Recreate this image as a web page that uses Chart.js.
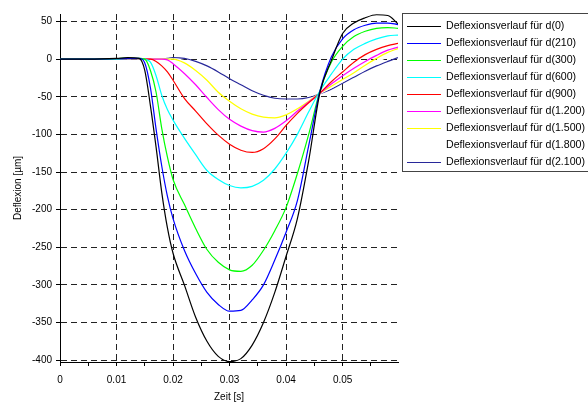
<!DOCTYPE html>
<html>
<head>
<meta charset="utf-8">
<script src="https://cdn.jsdelivr.net/npm/chart.js@4.4.0/dist/chart.umd.min.js"></script>
<style>
  html, body { margin: 0; padding: 0; background: #fff; }
  #wrap { width: 588px; height: 403px; position: relative; overflow: hidden; }
</style>
</head>
<body>
<div id="wrap"><canvas id="chart"></canvas></div>
<script>
// Zeit [s]
const zeit = [0, 0.005, 0.010, 0.012, 0.014, 0.015, 0.016, 0.017, 0.018, 0.019, 0.020,
  0.022, 0.024, 0.026, 0.028, 0.030, 0.032, 0.034, 0.036, 0.038, 0.040,
  0.042, 0.044, 0.046, 0.048, 0.050, 0.052, 0.054, 0.056, 0.058, 0.0598];

// Deflexion [µm] per sensor distance
const d0    = [0, 0, 1, 2, 1, -15, -62, -117, -177, -224, -258, -300, -343, -375, -395, -402, -398, -380, -350, -310, -262, -212, -135, -44, -2, 34, 48, 55, 59, 58, 47];
const d210  = [0, 0, 0.5, 1, 1, -5, -38, -93, -142, -182, -212, -254, -285, -310, -326, -335, -334, -320, -300, -267, -230, -188, -115, -42, 3, 27, 39, 45, 48, 48, 46];
const d300  = [0, 0, 0.5, 1.5, 1, 0, -15, -44, -92, -130, -160, -193, -225, -253, -270, -280, -282, -274, -254, -228, -197, -152, -100, -42, -4, 17, 30, 37, 41, 42, 41];
const d600  = [0, 0, 0, 0.5, 0.5, 0, -4, -22, -48, -67, -81, -105, -127, -148, -160, -168, -171, -169, -161, -146, -125, -100, -70, -42, -20, 0, 13, 21, 27, 31, 32];
const d900  = [0, 0, 0, 0.5, 0.5, 0, 0, -3, -9, -17, -28, -52, -69, -86, -101, -113, -121, -124, -119, -106, -88, -72, -58, -45, -30, -17, -4, 6, 13, 18, 21];
const d1200 = [0, 0, 0, 0.5, 0.5, 0, 0, 0, 0, -1, -6, -19, -34, -51, -67, -80, -89, -95, -97, -92, -82, -69, -57, -45, -33, -22, -12, -3, 5, 12, 16];
const d1500 = [0, 0, 0, 0.5, 0.5, 0, 0, 0, 0, 0, 0, -5, -15, -28, -44, -56, -66, -73, -77, -78, -74, -66, -56, -45, -36, -27, -18, -8, 1, 9, 14];
const d1800 = [0, 0, 0, 0.5, 0.5, 0, 0, 0, 0, 0, 0.5, -2, -9, -18, -29, -40, -50, -58, -63, -66, -65, -60, -54, -46, -38, -30, -21, -12, -4, 3, 8];
const d2100 = [0, 0, 0, 0.5, 0.5, 0, 0, 0, 0, 1, 2, 1, -3, -9, -17, -26, -34, -42, -48, -52, -53, -53, -51, -46, -40, -32, -24, -16, -9, -3, 2];

const seriesLabels = ['d(0)', 'd(210)', 'd(300)', 'd(600)', 'd(900)', 'd(1.200)', 'd(1.500)', 'd(1.800)', 'd(2.100)'];
const seriesValues = [d0, d210, d300, d600, d900, d1200, d1500, d1800, d2100];
const seriesColors = ['#000000', '#0000ff', '#00ff00', '#00ffff', '#ff0000', '#ff00ff', '#ffff00', '#ffffff', '#28289a'];

// axis ticks
const xTicksMajor = [0, 0.01, 0.02, 0.03, 0.04, 0.05];
const xTicksMinor = [0.005, 0.015, 0.025, 0.035, 0.045, 0.055];
const yTicks = [-400, -350, -300, -250, -200, -150, -100, -50, 0, 50];

Chart.defaults.font.family = '"Liberation Sans", Arial, sans-serif';
Chart.defaults.font.size = 10;
Chart.defaults.color = '#000';

const isMajorX = v => xTicksMajor.some(m => Math.abs(m - v) < 1e-9);

// legend drawn in the box on the right
const legendBox = {
  id: 'legendBox',
  afterDraw(chart) {
    const ctx = chart.ctx;
    ctx.save();
    ctx.strokeStyle = '#444';
    ctx.lineWidth = 1;
    ctx.strokeRect(402.5, 13.5, 200, 158);
    ctx.font = '10.6px "Liberation Sans", Arial, sans-serif';
    ctx.textBaseline = 'middle';
    chart.data.datasets.forEach((ds, i) => {
      const y = 26 + i * 17;
      ctx.fillStyle = ds.borderColor;
      ctx.fillRect(407, y, 34, 1);
      ctx.fillStyle = '#000';
      ctx.fillText(ds.label, 446, y + 0.5);
    });
    ctx.restore();
  }
};

new Chart(document.getElementById('chart').getContext('2d'), {
  type: 'line',
  data: {
    datasets: seriesValues.map((vals, i) => ({
      label: 'Deflexionsverlauf für ' + seriesLabels[i],
      data: zeit.map((t, j) => ({ x: t, y: vals[j] })),
      borderColor: seriesColors[i],
      backgroundColor: seriesColors[i],
      borderWidth: 1.2,
      pointRadius: 0,
      cubicInterpolationMode: 'monotone',
      fill: false
    }))
  },
  options: {
    responsive: true,
    maintainAspectRatio: false,
    animation: false,
    layout: { padding: { left: 0, top: 14, right: 190, bottom: 0 } },
    plugins: {
      legend: { display: false },
      tooltip: { enabled: false }
    },
    scales: {
      x: {
        type: 'linear',
        min: 0,
        max: 0.0598,
        afterBuildTicks: scale => {
          scale.ticks = xTicksMajor.concat(xTicksMinor).sort((a, b) => a - b).map(v => ({ value: v }));
        },
        afterFit: scale => { scale.height = 41; },
        ticks: {
          autoSkip: false,
          maxRotation: 0,
          padding: 8,
          font: { size: 10 },
          callback: v => isMajorX(v) ? String(v) : ''
        },
        grid: {
          color: ctx => (ctx.tick && isMajorX(ctx.tick.value)) ? '#222' : 'rgba(0,0,0,0)',
          tickColor: '#000',
          tickLength: 4
        },
        border: { display: true, color: '#000', width: 1, dash: [6, 4] },
        title: { display: true, text: 'Zeit [s]', font: { size: 10 }, padding: { top: 0, bottom: 0 } }
      },
      y: {
        type: 'linear',
        min: -402.5,
        max: 60,
        afterBuildTicks: scale => {
          scale.ticks = yTicks.map(v => ({ value: v }));
        },
        afterFit: scale => { scale.width = 60; },
        ticks: {
          padding: 4,
          font: { size: 10 },
          callback: v => String(v)
        },
        grid: {
          color: '#222',
          tickColor: '#000',
          tickLength: 4
        },
        border: { display: true, color: '#000', width: 1, dash: [6, 4] },
        title: { display: true, text: 'Deflexion [µm]', font: { size: 10 }, padding: { top: 12, bottom: 0 } }
      }
    }
  },
  plugins: [legendBox]
});
</script>
</body>
</html>
